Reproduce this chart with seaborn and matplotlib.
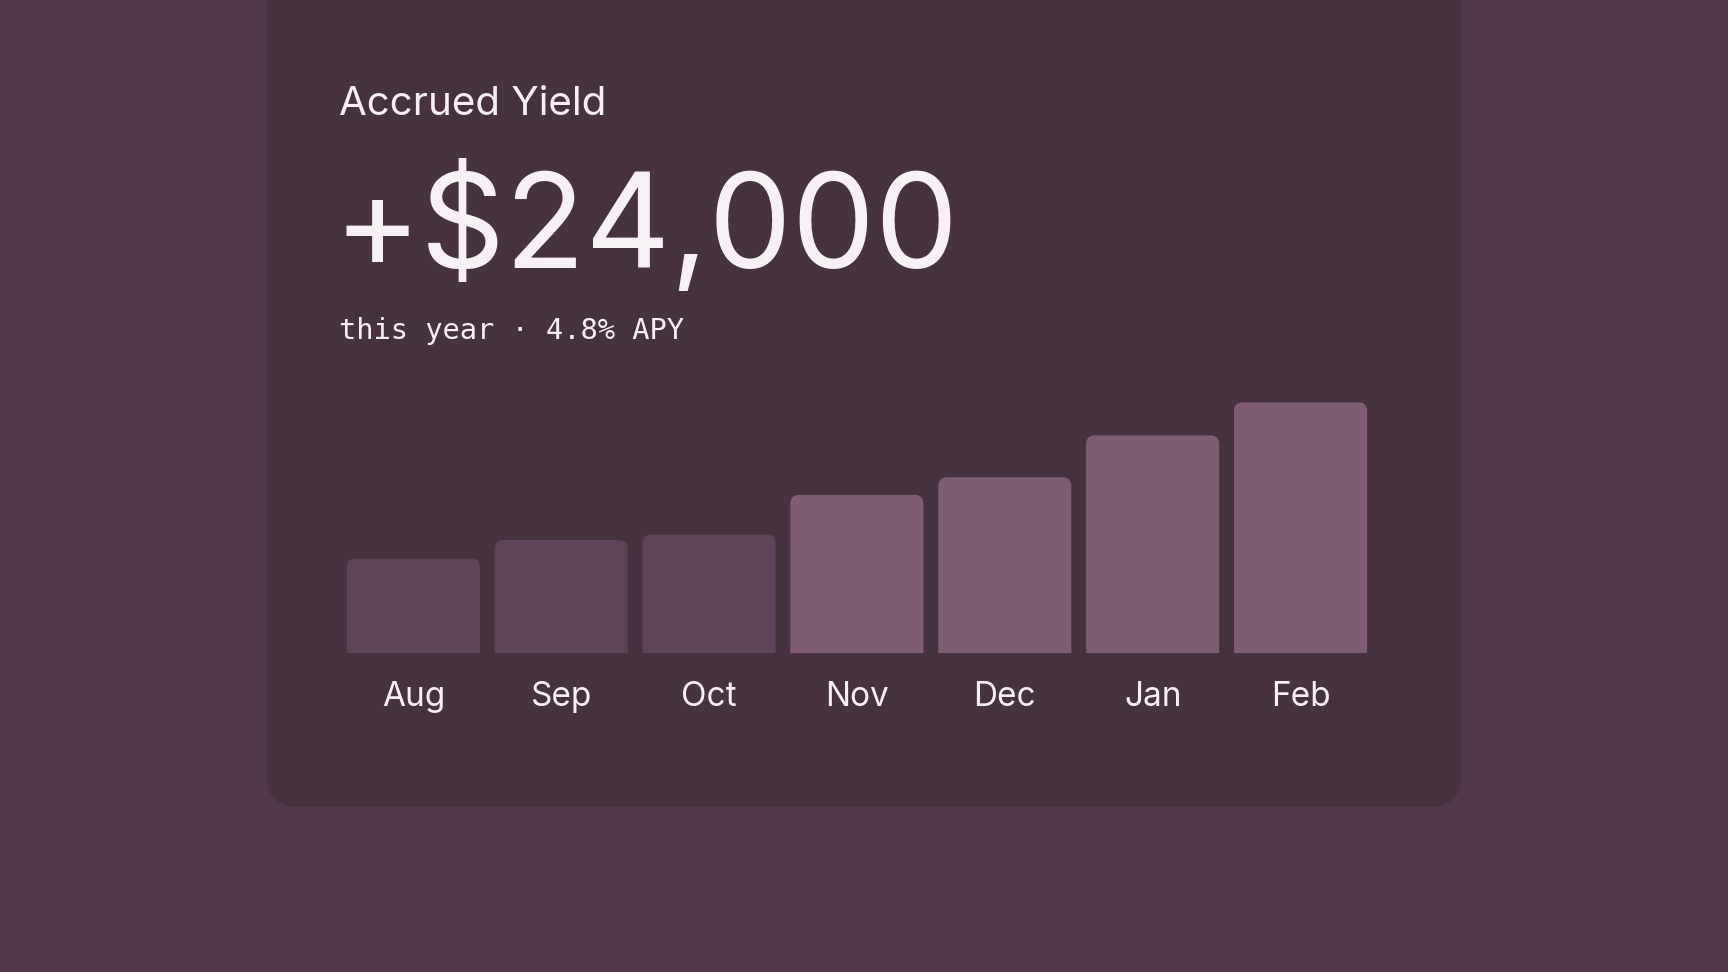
import matplotlib
matplotlib.use("Agg")
import matplotlib.pyplot as plt
import seaborn as sns
import pandas as pd
from matplotlib.patches import FancyBboxPatch

months = ["Aug", "Sep", "Oct", "Nov", "Dec", "Jan", "Feb"]
values = [86, 103, 108, 144, 160, 198, 228]
past = [True, True, True, False, False, False, False]

BG = "#54394d"
CARD = "#47323f"
BAR = "#7d5c74"
BAR_DIM = "#5f4358"
TXT = "#f7f1f5"

sns.set_theme(style="white")
plt.rcParams["font.family"] = ["Inter", "DejaVu Sans"]

fig = plt.figure(figsize=(17.28, 9.72), dpi=100, facecolor=BG)
card = FancyBboxPatch((0.1543, 0.170), 0.6913, 0.9, boxstyle="round,pad=0,rounding_size=0.018",
                      transform=fig.transFigure, facecolor=CARD, edgecolor="none",
                      mutation_aspect=1728/972, zorder=-5)
fig.patches.append(card)

ax = fig.add_axes([0.1964, 0.3277, 0.599, 0.272], zorder=2)
ax.set_facecolor("none")
df = pd.DataFrame({"month": months, "value": values})
sns.barplot(data=df, x="month", y="value", ax=ax, width=0.9, color=BAR, saturation=1)
for p, is_past in zip(list(ax.patches), past):
    x, w, h = p.get_x(), p.get_width(), p.get_height()
    p.remove()
    ax.add_patch(FancyBboxPatch((x, -20), w, h + 20, boxstyle="round,pad=0,rounding_size=0.06",
                                mutation_aspect=133, facecolor=BAR_DIM if is_past else BAR,
                                edgecolor="none"))
ax.set_ylim(0, 240)
ax.set_xlim(-0.5, len(months) - 0.5)
ax.set_xlabel("")
ax.set_ylabel("")
ax.set_yticks([])
ax.tick_params(axis="x", length=0, pad=20, labelsize=24, labelcolor=TXT)
for s in ax.spines.values():
    s.set_visible(False)

fig.text(0.1964, 0.882, "Accrued Yield", fontsize=29, color=TXT, va="baseline", ha="left")
fig.text(0.1930, 0.7245, "+$24,000", fontsize=95, color=TXT, va="baseline", ha="left")
fig.text(0.1964, 0.651, "this year · 4.8% APY", fontsize=20.7, color=TXT, va="baseline", ha="left",
         family=["DejaVu Sans Mono"])

fig.savefig("out.png", dpi=100, facecolor=BG)
